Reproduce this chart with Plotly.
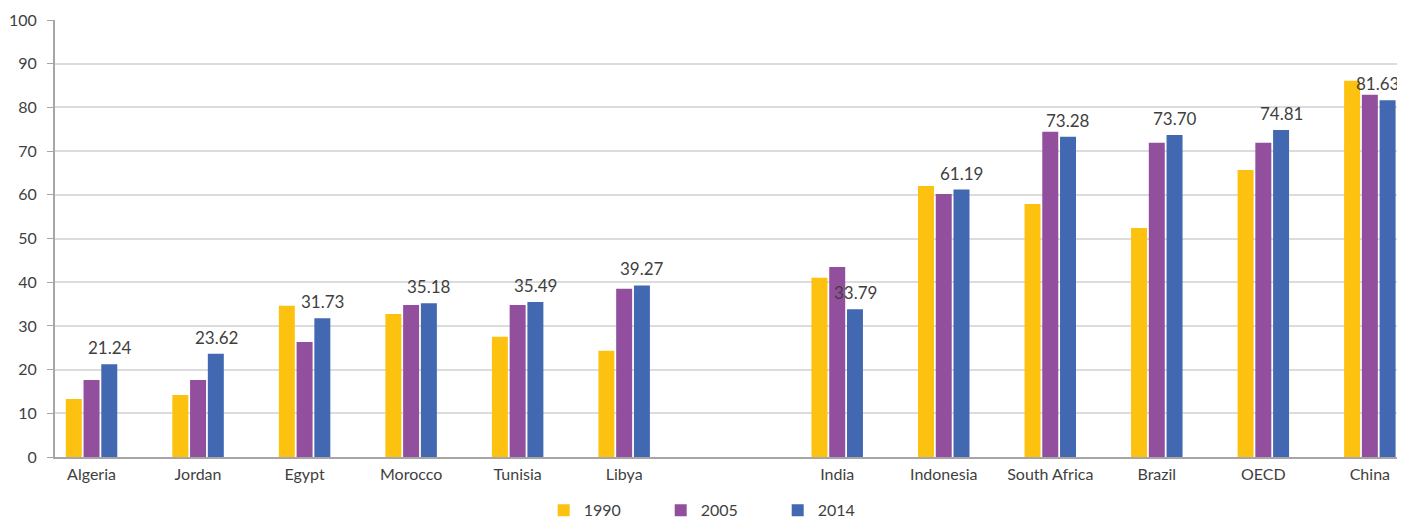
import plotly.graph_objects as go

categories = ["Algeria", "Jordan", "Egypt", "Morocco", "Tunisia", "Libya", " ",
              "India", "Indonesia", "South Africa", "Brazil", "OECD", "China"]
v1990 = [13.3, 14.2, 34.6, 32.7, 27.5, 24.3, None, 41.0, 62.0, 57.9, 52.4, 65.7, 86.1]
v2005 = [17.6, 17.6, 26.3, 34.8, 34.8, 38.5, None, 43.5, 60.2, 74.4, 71.9, 71.9, 82.9]
v2014 = [21.24, 23.62, 31.73, 35.18, 35.49, 39.27, None, 33.79, 61.19, 73.28, 73.70, 74.81, 81.63]
series_names = ["1990", "2005", "2014"]
colors = ["#FDC210", "#914F9D", "#4168B0"]

font_family = "Lato, 'Open Sans', sans-serif"
txt_color = "#3f3f3f"

fig = go.Figure()
for name, vals, col in zip(series_names, [v1990, v2005, v2014], colors):
    fig.add_trace(go.Bar(x=categories, y=vals, name=name,
                         marker=dict(color=col, line=dict(width=0))))

# value labels above the 2014 bars
for i, (cat, v) in enumerate(zip(categories, v2014)):
    if v is None:
        continue
    fig.add_annotation(x=cat, y=v, xref="x", yref="y", text="%.2f" % v,
                       showarrow=False, yanchor="bottom", yshift=4,
                       xshift=18 if i < len(categories) - 1 else 8,
                       font=dict(size=17, color=txt_color, family=font_family))

# page body has an 8px margin: figure is sized/margined to compensate
fig.update_layout(
    width=1397, height=510,
    margin=dict(l=47, r=0, t=12, b=61, autoexpand=False),
    barmode="group", bargap=0.5, bargroupgap=0.1,
    plot_bgcolor="white", paper_bgcolor="white",
    font=dict(family=font_family, size=16, color=txt_color),
    showlegend=True,
    legend=dict(orientation="h", x=0.362, xanchor="left", y=-0.122, yanchor="middle",
                font=dict(size=16, color=txt_color), traceorder="normal",
                entrywidth=72, entrywidthmode="pixels"),
)
fig.update_xaxes(
    type="category", categoryorder="array", categoryarray=categories,
    range=[-0.343, 12.33], automargin=False,
    showline=True, linecolor="#a6a6a6", linewidth=2,
    ticks="", showgrid=False, ticklabelstandoff=2,
    tickfont=dict(size=16, color=txt_color),
)
fig.update_yaxes(
    range=[0, 100], dtick=10, tick0=0, automargin=False,
    showline=True, linecolor="#a6a6a6", linewidth=2,
    ticks="outside", ticklen=6, tickcolor="#a6a6a6",
    showgrid=True, gridcolor="#dcdcdc", gridwidth=1.5,
    zeroline=False, ticklabelstandoff=7,
    tickfont=dict(size=16, color=txt_color),
)
fig.write_html("out.html")
